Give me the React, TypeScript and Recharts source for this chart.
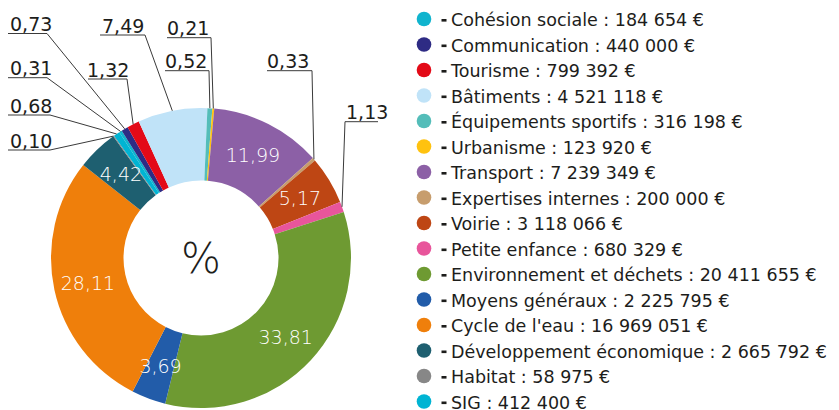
import React from "react";
import { PieChart, Pie, Cell, Legend } from "recharts";

const names = [
  "Cohésion sociale",
  "Communication",
  "Tourisme",
  "Bâtiments",
  "Équipements sportifs",
  "Urbanisme",
  "Transport",
  "Expertises internes",
  "Voirie",
  "Petite enfance",
  "Environnement et déchets",
  "Moyens généraux",
  "Cycle de l'eau",
  "Développement économique",
  "Habitat",
  "SIG",
];

const amounts = [
  184654, 440000, 799392, 4521118, 316198, 123920, 7239349, 200000, 3118066,
  680329, 20411655, 2225795, 16969051, 2665792, 58975, 412400,
];

const colors = [
  "#10B4CE",
  "#2E2B84",
  "#E30A17",
  "#C0E3F8",
  "#54BDB9",
  "#FFC20F",
  "#8C60A6",
  "#C79D6D",
  "#BE4614",
  "#E8559B",
  "#6E9A32",
  "#225CA9",
  "#EF7F0B",
  "#1E5F70",
  "#878787",
  "#00B4D3",
];

// layout for outside labels (null = label inside the ring)
type OutLay = { tx: number; ly: number; x1: number; x2: number; elbow: number } | null;
const outsideLayout: OutLay[] = [
  { tx: 10, ly: 77.7, x1: 8, x2: 47, elbow: 47 },
  { tx: 10, ly: 33.5, x1: 8, x2: 47, elbow: 47 },
  { tx: 87, ly: 79, x1: 88, x2: 127, elbow: 127 },
  { tx: 102, ly: 35, x1: 100, x2: 145, elbow: 145 },
  { tx: 165, ly: 70.7, x1: 165, x2: 209, elbow: 209 },
  { tx: 167, ly: 37.7, x1: 167, x2: 211, elbow: 211 },
  null,
  { tx: 267, ly: 70.7, x1: 267, x2: 312, elbow: 312 },
  null,
  { tx: 346, ly: 121.7, x1: 345, x2: 378, elbow: 345 },
  null,
  null,
  null,
  null,
  { tx: 10, ly: 150, x1: 8, x2: 50, elbow: 50 },
  { tx: 10, ly: 115, x1: 8, x2: 50, elbow: 50 },
];

const centerText = "%";

const total = amounts.reduce((a, b) => a + b, 0);
const data = names.map((name, i) => ({ name, value: amounts[i] }));

const FONT = "'DejaVu Sans', sans-serif";

const fmtPct = (i: number) => ((amounts[i] / total) * 100).toFixed(2).replace(".", ",");
const fmtEuro = (v: number) => String(v).replace(/\B(?=(\d{3})+(?!\d))/g, " ") + " €";

const renderLabel = (props: any) => {
  const { cx, cy, midAngle, innerRadius, outerRadius, index } = props;
  const RAD = Math.PI / 180;
  const pct = fmtPct(index);
  const lay = outsideLayout[index];
  const center =
    index === 0 ? (
      <text
        x={cx}
        y={cy}
        textAnchor="middle"
        dominantBaseline="central"
        fontSize={42}
        fontWeight={200}
        fontFamily={FONT}
        fill="#1d1d1b"
      >
        {centerText}
      </text>
    ) : null;
  if (!lay) {
    const r = (innerRadius + outerRadius) / 2 + 2;
    const x = cx + r * Math.cos(-midAngle * RAD);
    const y = cy + r * Math.sin(-midAngle * RAD);
    return (
      <g key={`l${index}`}>
        {center}
        <text
          x={x}
          y={y}
          fill="#ffffff"
          textAnchor="middle"
          dominantBaseline="central"
          fontSize={19}
          fontWeight={200}
          fontFamily={FONT}
        >
          {pct}
        </text>
      </g>
    );
  }
  const ex = cx + outerRadius * Math.cos(-midAngle * RAD);
  const ey = cy + outerRadius * Math.sin(-midAngle * RAD);
  return (
    <g key={`l${index}`}>
      {center}
      <line x1={lay.x1} y1={lay.ly} x2={lay.x2} y2={lay.ly} stroke="#3a3a3a" strokeWidth={1} />
      <line x1={lay.elbow} y1={lay.ly} x2={ex} y2={ey} stroke="#3a3a3a" strokeWidth={1} />
      <text x={lay.tx} y={lay.ly - 2.5} fill="#1d1d1b" fontSize={19} fontFamily={FONT}>
        {pct}
      </text>
    </g>
  );
};

const renderLegend = () => (
  <svg width={429} height={410} style={{ display: "block" }}>
    {names.map((n, i) => {
      const cy = 19 + i * 25.5;
      return (
        <g key={n}>
          <circle cx={14} cy={cy} r={7.3} fill={colors[i]} />
          <rect x={31.5} y={cy} width={5} height={2.6} fill="#1d1d1b" />
          <text x={41} y={cy + 7} fontSize={17.5} fontFamily={FONT} fill="#1d1d1b">
            {`${n} : ${fmtEuro(amounts[i])}`}
          </text>
        </g>
      );
    })}
  </svg>
);

export default function App() {
  return (
    <div style={{ width: 839, height: 410, background: "#fff" }}>
      <style>{"body{margin:0;}"}</style>
      <PieChart width={839} height={410} margin={{ top: 0, right: 0, bottom: 0, left: 0 }}>
        <Pie
          data={data}
          dataKey="value"
          nameKey="name"
          cx={201}
          cy={258}
          innerRadius={77.5}
          outerRadius={150}
          startAngle={123}
          endAngle={-237}
          stroke="none"
          isAnimationActive={false}
          label={renderLabel}
          labelLine={false}
        >
          {data.map((d, i) => (
            <Cell key={d.name} fill={colors[i]} />
          ))}
        </Pie>
        <Legend
          layout="vertical"
          align="right"
          verticalAlign="top"
          content={renderLegend}
          wrapperStyle={{ position: "absolute", left: 410, top: 0, width: 429, height: 410 }}
        />
      </PieChart>
    </div>
  );
}
